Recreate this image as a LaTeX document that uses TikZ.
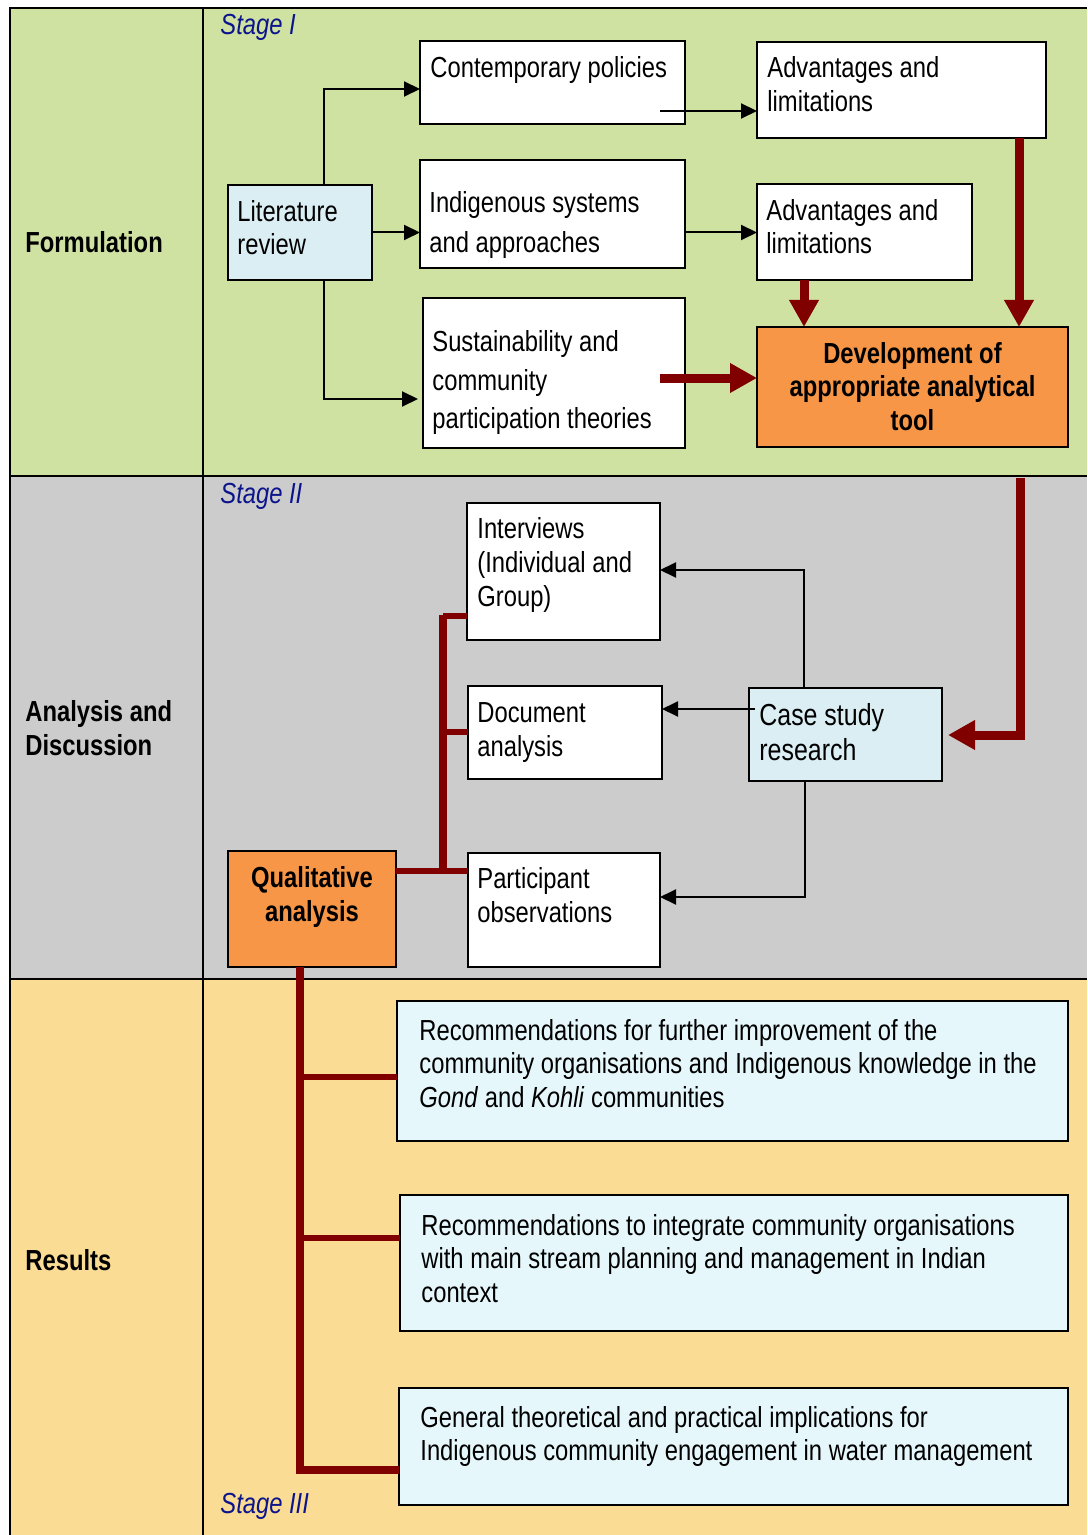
\documentclass[tikz,border=0pt]{standalone}
\usepackage{fontspec}
\setmainfont{Liberation Sans}[FakeStretch=0.82]
\usetikzlibrary{arrows.meta}

\definecolor{formgreen}{RGB}{207,226,161}
\definecolor{anagray}{RGB}{204,204,204}
\definecolor{respeach}{RGB}{250,220,148}
\definecolor{litblue}{RGB}{218,238,243}
\definecolor{toolorange}{RGB}{247,150,70}
\definecolor{resblue}{RGB}{230,247,252}
\definecolor{darkred}{RGB}{128,0,0}
\definecolor{stageblue}{RGB}{12,20,140}

% text nodes are placed by the baseline of their last line
\tikzset{
  box/.style={draw=black, line width=1pt, anchor=north west, inner sep=0pt, outer sep=0pt},
  wbox/.style={box, fill=white},
  bbox/.style={box, fill=litblue},
  obox/.style={box, fill=toolorange},
  rbox/.style={box, fill=resblue},
  txt/.style={anchor=base west, align=left, inner sep=0pt, font=\fontsize{14.5}{16.75}\selectfont},
  ctxt/.style={anchor=base, align=center, inner sep=0pt, font=\bfseries\fontsize{14.5}{16.75}\selectfont},
  rowlabel/.style={anchor=base west, align=left, inner sep=0pt, font=\bfseries\fontsize{14.5}{17}\selectfont},
  stagelabel/.style={anchor=base west, inner sep=0pt, text=stageblue, font=\itshape\fontsize{14.5}{16}\selectfont},
  tbl/.style={line width=1.4pt, draw=black},
  thinarrow/.style={line width=1pt, -{Triangle[length=8pt,width=7.5pt]}},
  bigarrow/.style={draw=darkred, line width=4.5pt, -{Triangle[length=13.5pt,width=14pt]}},
  redbar/.style={draw=darkred, line width=4.4pt},
  redline/.style={draw=darkred, line width=2.75pt},
}

\begin{document}
\begin{tikzpicture}[x=0.5pt,y=-0.5pt]
\useasboundingbox (0,0) rectangle (1087,1535);
\fill[white] (0,0) rectangle (1087,1535);

% table rows and grid
\fill[formgreen] (10,8) rectangle (1087,476);
\fill[anagray] (10,476) rectangle (1087,979);
\fill[respeach] (10,979) rectangle (1087,1535);
\draw[tbl] (1087,8) -- (10,8) -- (10,1535);
\draw[tbl] (203,8) -- (203,1535);
\draw[tbl] (10,476) -- (1087,476);
\draw[tbl] (10,979) -- (1087,979);

% row headings
\node[rowlabel] (hform) at (25,253) {Formulation};
\node[rowlabel] (hana) at (25,755) {Analysis and\\Discussion};
\node[rowlabel] (hres) at (25,1270) {Results};

% stage labels
\node[stagelabel] (s1) at (220,35) {Stage I};
\node[stagelabel] (s2) at (220,503) {Stage II};
\node[stagelabel] (s3) at (220,1513) {Stage III};

% ---------- Stage I boxes ----------
\node[wbox, minimum width=132.5pt, minimum height=41.5pt] (cp) at (420,41) {};
\node[txt] (cpt) at (430,78) {Contemporary policies};

\node[wbox, minimum width=144.5pt, minimum height=48pt] (al1) at (757,42) {};
\node[txt] (al1t) at (767,111.5) {Advantages and\\limitations};

\node[bbox, minimum width=72pt, minimum height=47.5pt] (lit) at (228,185) {};
\node[txt] (litt) at (237,255) {Literature\\review};

\node[wbox, minimum width=132.5pt, minimum height=54pt] (ind) at (420,160) {};
\node[txt, font=\fontsize{14.5}{20}\selectfont] (indt) at (429,253) {Indigenous systems\\and approaches};

\node[wbox, minimum width=107.5pt, minimum height=48pt] (al2) at (757,184) {};
\node[txt] (al2t) at (766,254) {Advantages and\\limitations};

\node[wbox, minimum width=131pt, minimum height=75pt] (sus) at (423,298) {};
\node[txt, font=\fontsize{14.5}{19.2}\selectfont] (sust) at (432,428.5) {Sustainability and\\community\\participation theories};

\node[obox, minimum width=155.5pt, minimum height=60pt] (dev) at (757,327) {};
\node[ctxt] (devt) at (912.5,430) {Development of\\appropriate analytical\\tool};

% ---------- Stage II boxes ----------
\node[wbox, minimum width=96.5pt, minimum height=68.5pt] (int) at (467,503) {};
\node[txt, font=\fontsize{14.5}{17}\selectfont] (intt) at (477,606) {Interviews\\(Individual and\\Group)};

\node[wbox, minimum width=97pt, minimum height=46.5pt] (doc) at (468,686) {};
\node[txt] (doct) at (477,756) {Document\\analysis};

\node[wbox, minimum width=96pt, minimum height=57pt] (par) at (468,853) {};
\node[txt, font=\fontsize{14.5}{17.2}\selectfont] (part) at (477,922.5) {Participant\\observations};

\node[bbox, minimum width=96.5pt, minimum height=46.5pt] (cs) at (749,688) {};
\node[txt, font=\fontsize{15.2}{17.5}\selectfont] (cst) at (759,760) {Case study\\research};

\node[obox, minimum width=84pt, minimum height=58pt] (qa) at (228,851) {};
\node[ctxt, font=\bfseries\fontsize{14.5}{17}\selectfont] (qat) at (312,921) {Qualitative\\analysis};

% ---------- Stage III boxes ----------
\node[rbox, minimum width=335.5pt, minimum height=70pt] (r1) at (397,1001) {};
\node[txt] (r1t) at (419,1107) {Recommendations for further improvement of the\\community organisations and Indigenous knowledge in the\\\textit{Gond} and \textit{Kohli} communities};

\node[rbox, minimum width=334pt, minimum height=68pt] (r2) at (400,1195) {};
\node[txt] (r2t) at (421,1302) {Recommendations to integrate community organisations\\with main stream planning and management in Indian\\context};

\node[rbox, minimum width=334.5pt, minimum height=58.5pt] (r3) at (399,1388) {};
\node[txt] (r3t) at (420,1460.5) {General theoretical and practical implications for\\Indigenous community engagement in water management};

% ---------- Stage I connectors ----------
\coordinate (up) at (324,89);
\draw[thinarrow] (lit.north -| up) -- (up) -- (cp.west |- up);
\draw[thinarrow] (lit.east) -- (lit.east -| ind.west);
\coordinate (down) at (324,399);
\draw[thinarrow, shorten >=2.5pt] (lit.south -| down) -- (down) -- (down -| sus.west);
\coordinate (cpout) at (660,111);
\draw[thinarrow] (cpout) -- (cpout -| al1.west);
\draw[thinarrow] (ind.east |- lit.east) -- (al2.west |- lit.east);

\coordinate (susout) at (660,378);
\draw[bigarrow] (susout) -- (susout -| dev.west);
\coordinate (a2x) at (804,280);
\draw[bigarrow] (al2.south -| a2x) -- (dev.north -| a2x);
\coordinate (a1x) at (1019,138);
\draw[bigarrow] (al1.south -| a1x) -- (dev.north -| a1x);

% ---------- Stage I to Stage II ----------
\coordinate (toolout) at (1020,478);
\coordinate (toolturn) at (1020,735);
\draw[bigarrow, shorten >=3pt] (toolout) -- (toolturn) -- (toolturn -| cs.east);

% ---------- Stage II connectors ----------
\coordinate (cstop) at (804,570);
\draw[thinarrow] (cs.north -| cstop) -- (cstop) -- (cstop -| int.east);
\coordinate (csleft) at (755,709);
\draw[thinarrow] (csleft) -- (csleft -| doc.east);
\coordinate (csbot) at (805,897);
\draw[thinarrow] (cs.south -| csbot) -- (csbot) -- (csbot -| par.east);

\coordinate (br1) at (443,616);
\coordinate (br2) at (443,732);
\coordinate (br3) at (443,871);
\draw[redline] (br1) -- (br1 -| int.west);
\draw[redline] (br2) -- (br2 -| doc.west);
\draw[redline] (qa.east |- br3) -- (br3 -| par.west);
\draw[redbar] ([yshift=0.6pt]br1) -- ([yshift=-0.6pt]br3);

% ---------- Stage III connectors ----------
\coordinate (rb1) at (300,1077);
\coordinate (rb2) at (300,1238);
\coordinate (rb3) at (300,1470);
\draw[redline] (rb1) -- (rb1 -| r1.west);
\draw[redline] (rb2) -- (rb2 -| r2.west);
\draw[redline, line width=3.75pt] (rb3) -- (rb3 -| r3.west);
\draw[redbar] (qa.south -| rb3) -- ([yshift=-1.8pt]rb3);
\end{tikzpicture}
\end{document}
